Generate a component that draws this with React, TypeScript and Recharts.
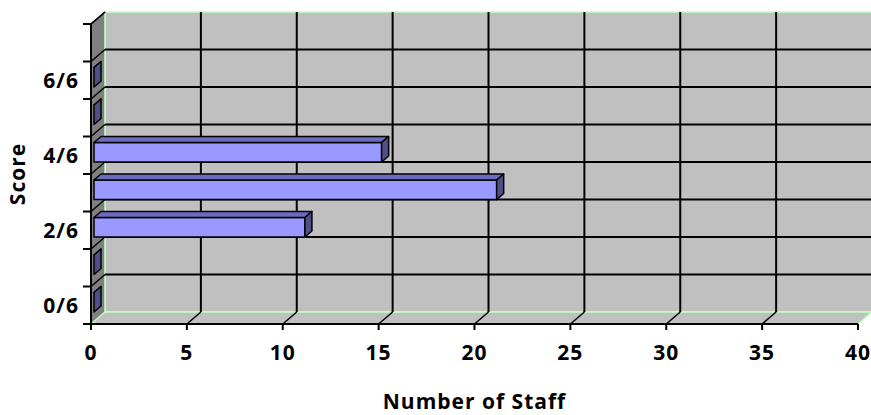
import React from "react";
import {
  BarChart,
  Bar,
  XAxis,
  YAxis,
  CartesianGrid,
  ReferenceArea,
} from "recharts";

const scores = ["0/6", "1/6", "2/6", "3/6", "4/6", "5/6", "6/6", ""];
const staffCounts: (number | null)[] = [0, 0, 11, 21, 15, 0, 0, null];
const staffTicks = [0, 5, 10, 15, 20, 25, 30, 35, 40];

const data = scores.map((score, i) => ({ score, staff: staffCounts[i] }));

// depth of the walls and of the bars
const WALL_DX = 14;
const WALL_DY = -12;
const BAR_SHIFT_X = 3;
const BAR_SHIFT_Y = -3;
const BAR_DX = 7;
const BAR_DY = -6;

const WALL = "#C0C0C0";
const SIDE_WALL = "#808080";
const EDGE = "#C0FFC0";
const BAR_FRONT = "#9999FF";
const BAR_TOP = "#6B6BC0";
const BAR_SIDE = "#505088";

const font = {
  fontFamily: "'Open Sans'",
  fontWeight: 700,
  fontSize: 21,
  fill: "#000",
  letterSpacing: 1,
};

const Box3D = (props: any) => {
  const { x, y, width, height } = props;
  const b = y + height;
  const r = x + width;
  return (
    <g>
      <rect
        x={x + WALL_DX}
        y={y + WALL_DY}
        width={width}
        height={height}
        fill={WALL}
        stroke={EDGE}
        strokeWidth={1.5}
      />
      <polygon
        points={`${x},${y} ${x + WALL_DX},${y + WALL_DY} ${x + WALL_DX},${b + WALL_DY} ${x},${b}`}
        fill={SIDE_WALL}
      />
      <line
        x1={x + WALL_DX}
        y1={y + WALL_DY}
        x2={x + WALL_DX}
        y2={b + WALL_DY}
        stroke={EDGE}
        strokeWidth={1.5}
      />
      <line x1={x} y1={y} x2={x + WALL_DX} y2={y + WALL_DY} stroke="#000" strokeWidth={1.5} />
      <polygon
        points={`${x},${b} ${x + WALL_DX},${b + WALL_DY} ${r + WALL_DX},${b + WALL_DY} ${r},${b}`}
        fill={WALL}
        stroke={EDGE}
        strokeWidth={1.5}
      />
    </g>
  );
};

// band edges of the score axis (one more than the number of scores)
const bandEdges = ({ offset }: any) =>
  Array.from(
    { length: scores.length + 1 },
    (_, i) => offset.top + (i * offset.height) / scores.length
  );

const HLine = (props: any) => {
  const { x1, x2, y1, y, height } = props;
  const isTop = Math.abs(y1 - y) < 0.5;
  const isBottom = Math.abs(y1 - (y + height)) < 0.5;
  return (
    <g key={props.key}>
      <line x1={x1 - 8} y1={y1} x2={x1} y2={y1} stroke="#000" strokeWidth={2} />
      {!isBottom && (
        <line
          x1={x1}
          y1={y1}
          x2={x1 + WALL_DX}
          y2={y1 + WALL_DY}
          stroke="#000"
          strokeWidth={1.5}
        />
      )}
      {!isBottom && !isTop && (
        <line
          x1={x1 + WALL_DX}
          y1={y1 + WALL_DY}
          x2={x2 + WALL_DX}
          y2={y1 + WALL_DY}
          stroke="#000"
          strokeWidth={2}
        />
      )}
    </g>
  );
};

const VLine = (props: any) => {
  const { x1, y1, y2, x, width } = props;
  const isEdge = Math.abs(x1 - x) < 0.5 || Math.abs(x1 - (x + width)) < 0.5;
  if (isEdge) return <g key={props.key} />;
  const top = Math.min(y1, y2);
  const bottom = Math.max(y1, y2);
  return (
    <g key={props.key}>
      <line
        x1={x1 + WALL_DX}
        y1={top + WALL_DY}
        x2={x1 + WALL_DX}
        y2={bottom + WALL_DY}
        stroke="#000"
        strokeWidth={2}
      />
      <line
        x1={x1}
        y1={bottom}
        x2={x1 + WALL_DX}
        y2={bottom + WALL_DY}
        stroke="#000"
        strokeWidth={1.5}
      />
    </g>
  );
};

const Bar3D = (props: any) => {
  const { x, y, width, height, payload } = props;
  if (payload == null || payload.staff == null) return <g />;
  const x0 = x + BAR_SHIFT_X;
  const y0 = y + BAR_SHIFT_Y;
  const x1 = x0 + width;
  const yb = y0 + height;
  return (
    <g stroke="#000" strokeWidth={1.5} strokeLinejoin="round">
      <rect x={x0} y={y0} width={width} height={height} fill={BAR_FRONT} />
      <polygon
        points={`${x0},${y0} ${x0 + BAR_DX},${y0 + BAR_DY} ${x1 + BAR_DX},${y0 + BAR_DY} ${x1},${y0}`}
        fill={BAR_TOP}
      />
      <polygon
        points={`${x1},${y0} ${x1 + BAR_DX},${y0 + BAR_DY} ${x1 + BAR_DX},${yb + BAR_DY} ${x1},${yb}`}
        fill={BAR_SIDE}
      />
    </g>
  );
};

const ScoreLabel = (props: any) => {
  const { viewBox } = props;
  const cx = viewBox.x + 17;
  const cy = viewBox.y + viewBox.height / 2;
  return (
    <text
      x={cx}
      y={cy}
      transform={`rotate(-90 ${cx} ${cy})`}
      textAnchor="middle"
      dominantBaseline="central"
      style={font}
    >
      Score
    </text>
  );
};

const StaffLabel = (props: any) => {
  const { viewBox } = props;
  return (
    <text
      x={viewBox.x + viewBox.width / 2}
      y={viewBox.y + 85}
      textAnchor="middle"
      style={font}
    >
      Number of Staff
    </text>
  );
};

const App: React.FC = () => {
  return (
    <div style={{ position: "absolute", left: 0, top: 0, background: "#fff" }}>
      <BarChart
        width={871}
        height={415}
        data={data}
        layout="vertical"
        barSize={19.5}
        margin={{ top: 24, right: 13, bottom: 0, left: 0 }}
      >
        <ReferenceArea
          x1={0}
          x2={40}
          shape={Box3D}
          ifOverflow="visible"
          zIndex={-200}
        />
        <CartesianGrid
          horizontal={HLine}
          vertical={VLine}
          horizontalCoordinatesGenerator={bandEdges}
        />
        <XAxis
          type="number"
          domain={[0, 40]}
          ticks={staffTicks}
          height={91}
          axisLine={{ stroke: "#000", strokeWidth: 2 }}
          tickLine={{ stroke: "#000", strokeWidth: 2 }}
          tickSize={6}
          tickMargin={15}
          tick={font}
          label={<StaffLabel />}
        />
        <YAxis
          type="category"
          dataKey="score"
          reversed
          interval={1}
          width={91}
          axisLine={{ stroke: "#000", strokeWidth: 2 }}
          tickLine={false}
          tickSize={6}
          tickMargin={6}
          tick={font}
          label={<ScoreLabel />}
        />
        <Bar dataKey="staff" shape={Bar3D} isAnimationActive={false} />
      </BarChart>
    </div>
  );
};

export default App;
